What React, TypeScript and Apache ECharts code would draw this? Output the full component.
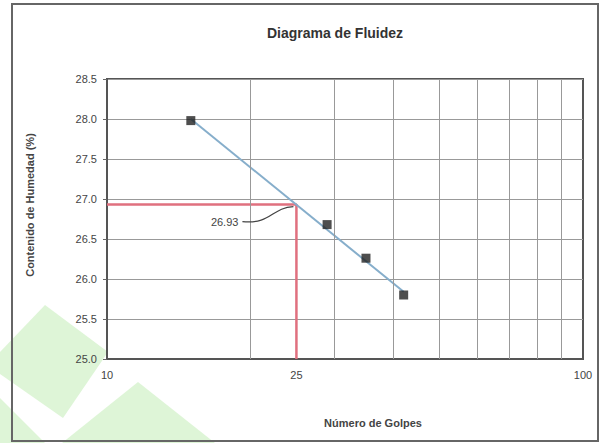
import React, { useEffect, useRef } from "react";
import * as echarts from "echarts";

const golpes = [15, 29, 35, 42];
const humedad = [27.98, 26.68, 26.26, 25.8];
const tendenciaX = [15, 42];
const tendenciaY = [28.0, 25.84];
const golpesRef = 25;
const limiteLiquido = 26.93;
const xLabelValues = [10, 25, 100];
const gridX = [20, 30, 40, 50, 60, 70, 80, 90];
const yMin = 25;
const yMax = 28.5;
const yStep = 0.5;

const FONT = "Liberation Sans, Arial, sans-serif";

export default function App() {
  const ref = useRef<HTMLDivElement>(null);
  useEffect(() => {
    document.body.style.margin = "0";
    if (!ref.current) return;
    const chart = echarts.init(ref.current, undefined, { renderer: "svg" });
    const option: any = {
      animation: false,
      backgroundColor: "#ffffff",
      textStyle: { fontFamily: FONT },
      title: {
        text: "Diagrama de Fluidez",
        left: 330,
        textAlign: "center",
        top: 21,
        textStyle: { fontSize: 14, fontWeight: "bold", color: "#333", fontFamily: FONT },
      },
      grid: {
        left: 107,
        right: 18,
        top: 79,
        bottom: 84,
        show: true,
        borderColor: "#555",
        borderWidth: 2,
        backgroundColor: "transparent",
      },
      xAxis: {
        type: "log",
        logBase: 10,
        min: 10,
        max: 100,
        name: "Número de Golpes",
        nameLocation: "middle",
        nameGap: 58,
        nameTextStyle: { fontSize: 11, fontWeight: "bold", color: "#444", fontFamily: FONT, padding: [0, 0, 0, 56] },
        axisLine: { show: true, lineStyle: { color: "#555", width: 2 } },
        axisTick: { show: false },
        splitLine: { show: false },
        axisLabel: { customValues: xLabelValues, fontSize: 11, color: "#444", margin: 10, fontFamily: FONT },
      },
      yAxis: {
        type: "value",
        min: yMin,
        max: yMax,
        interval: yStep,
        name: "Contenido de Humedad (%)",
        nameLocation: "middle",
        nameGap: 72,
        nameTextStyle: { fontSize: 11, fontWeight: "bold", color: "#444", fontFamily: FONT, padding: [0, 0, 0, 28] },
        axisLine: { show: true, lineStyle: { color: "#555", width: 2 } },
        axisTick: { show: true, length: 4, lineStyle: { color: "#666" } },
        splitLine: { show: true, lineStyle: { color: "#999", width: 1 } },
        axisLabel: {
          fontSize: 11,
          color: "#444",
          margin: 10,
          fontFamily: FONT,
          formatter: (v: number) => v.toFixed(1),
        },
      },
      series: [
        {
          type: "line",
          data: [],
          silent: true,
          markLine: {
            silent: true,
            symbol: "none",
            label: { show: false },
            lineStyle: { color: "#999", width: 1, type: "solid" },
            data: gridX.map((v) => ({ xAxis: v })),
          },
          z: 1,
        },
        {
          name: "Límite",
          type: "line",
          data: [
            [10, limiteLiquido],
            [golpesRef, limiteLiquido],
            [golpesRef, yMin],
          ],
          showSymbol: false,
          symbol: "none",
          lineStyle: { color: "#e0707f", width: 2.5 },
          z: 2,
        },
        {
          name: "Tendencia",
          type: "line",
          data: tendenciaX.map((x, i) => [x, tendenciaY[i]]),
          symbol: "none",
          lineStyle: { color: "#86aecb", width: 2 },
          z: 3,
        },
        {
          name: "Ensayos",
          type: "scatter",
          data: golpes.map((x, i) => [x, humedad[i]]),
          symbol: "rect",
          symbolSize: 9,
          itemStyle: { color: "#222" },
          z: 5,
        },
      ],
    };
    chart.setOption(option);
    const p = chart.convertToPixel({ xAxisIndex: 0, yAxisIndex: 0 }, [golpesRef, limiteLiquido]) as number[];
    const tx = p[0] - 50;
    const ty = p[1] + 17;
    chart.setOption({
      graphic: [
        {
          type: "rect",
          shape: { x: 12, y: 4, width: 586, height: 437 },
          style: { fill: "none", stroke: "#666", lineWidth: 2 },
          silent: true,
          z: 0,
        },
        {
          type: "polygon",
          shape: { points: [[0, 352], [45, 305], [108, 352], [63, 418], [0, 374]] },
          style: { fill: "#d6f3cd", opacity: 0.8 },
          silent: true,
          z: -1,
        },
        {
          type: "polygon",
          shape: { points: [[0, 398], [45, 443], [0, 443]] },
          style: { fill: "#d6f3cd", opacity: 0.8 },
          silent: true,
          z: -1,
        },
        {
          type: "polygon",
          shape: { points: [[62, 443], [138, 382], [215, 443]] },
          style: { fill: "#d6f3cd", opacity: 0.8 },
          silent: true,
          z: -1,
        },
        {
          type: "text",
          x: tx - 8,
          y: ty,
          style: {
            text: limiteLiquido.toFixed(2),
            fontSize: 11,
            fill: "#444",
            fontFamily: FONT,
            align: "right",
            verticalAlign: "middle",
          },
          z: 10,
        },
        {
          type: "bezierCurve",
          shape: {
            x1: tx - 4,
            y1: ty,
            x2: p[0] - 3,
            y2: p[1] + 2,
            cpx1: tx + 25,
            cpy1: ty + 3,
            cpx2: p[0] - 25,
            cpy2: p[1] + 3,
          },
          style: { stroke: "#444", lineWidth: 1.2, fill: "none" },
          z: 10,
        },
      ],
    });
    return () => chart.dispose();
  }, []);
  return <div ref={ref} style={{ width: 601, height: 443 }} />;
}
